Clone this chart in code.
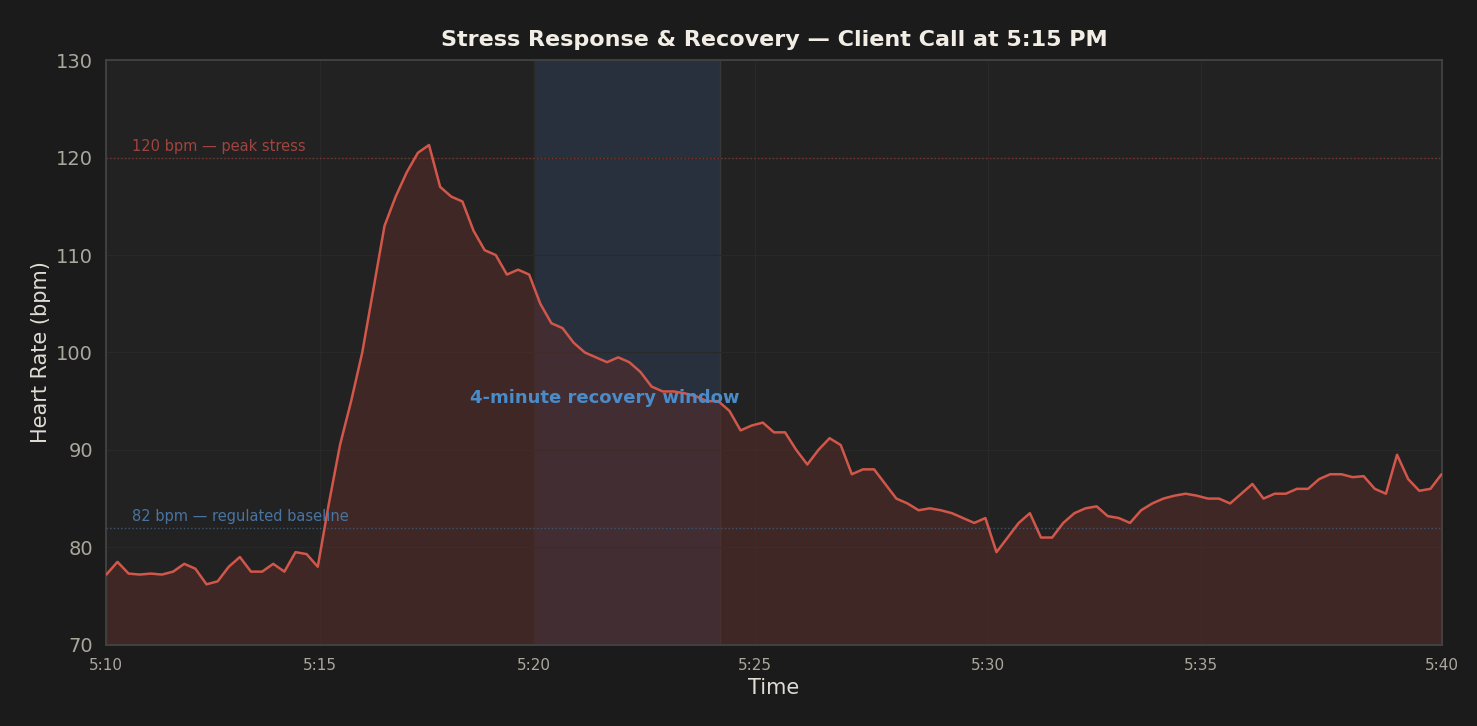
import numpy as np, pandas as pd, seaborn as sns, matplotlib
matplotlib.use("Agg")
import matplotlib.pyplot as plt

hr = [77.2,78.5,77.3,77.2,77.3,77.2,77.5,78.3,77.8,76.2,76.5,78.0,79.0,77.5,77.5,78.3,77.5,79.5,79.3,78.0,
      84.5,90.5,95.0,100.0,106.5,113.0,116.0,118.5,120.5,121.3,117.0,116.0,115.5,112.5,110.5,110.0,108.0,108.5,108.0,105.0,
      103.0,102.5,101.0,100.0,99.5,99.0,99.5,99.0,98.0,96.5,96.0,96.0,95.8,95.5,95.0,95.0,94.0,92.0,92.5,92.8,
      91.8,91.8,90.0,88.5,90.0,91.2,90.5,87.5,88.0,88.0,86.5,85.0,84.5,83.8,84.0,83.8,83.5,83.0,82.5,83.0,
      79.5,81.0,82.5,83.5,81.0,81.0,82.5,83.5,84.0,84.2,83.2,83.0,82.5,83.8,84.5,85.0,85.3,85.5,85.3,85.0,
      85.0,84.5,85.5,86.5,85.0,85.5,85.5,86.0,86.0,87.0,87.5,87.5,87.2,87.3,86.0,85.5,89.5,87.0,85.8,86.0,87.5]
minutes = [i * 0.25 for i in range(len(hr))]
tick_labels = ["5:10", "5:15", "5:20", "5:25", "5:30", "5:35", "5:40"]
tick_pos = [0, 4.79, 9.6, 14.58, 19.8, 24.6, 30]

sns.set_theme(style="dark")
plt.rcParams['font.family'] = ['DejaVu Sans']
fig, ax = plt.subplots(figsize=(14.77, 7.26), dpi=100)
fig.patch.set_facecolor("#1b1b1b")
ax.set_facecolor("#222222")
df = pd.DataFrame({"t": minutes, "hr": hr})
ax.axvspan(9.6, 13.78, facecolor="#2a3344", edgecolor="#3a3a3a", alpha=0.85, zorder=0)
ax.fill_between(df.t, 70, df.hr, color="#5a2c28", alpha=0.5, zorder=1)
sns.lineplot(data=df, x="t", y="hr", ax=ax, color="#d0574a", lw=1.8, zorder=3)
ax.axhline(120, color="#7a3632", ls=":", lw=1)
ax.axhline(82, color="#3d5670", ls=":", lw=1)
ax.text(0.58, 120.7, "120 bpm — peak stress", color="#a0443f", fontsize=10.5)
ax.text(0.58, 82.7, "82 bpm — regulated baseline", color="#4a74a0", fontsize=10.5)
ax.text(8.18, 95.3, "4-minute recovery window", color="#4a8cc9", fontsize=13, fontweight="bold", va="center", zorder=4)
ax.set_xlim(0, 30); ax.set_ylim(70, 130)
ax.set_xticks(tick_pos); ax.set_xticklabels(tick_labels)
ax.tick_params(axis="x", colors="#aaa79d", labelsize=11)
ax.tick_params(axis="y", colors="#aaa79d", labelsize=14)
ax.grid(True, color="#292929", lw=0.8)
for s in ax.spines.values():
    s.set_color("#444444"); s.set_visible(True)
ax.set_xlabel("Time", color="#e0ddd5", fontsize=15)
ax.set_ylabel("Heart Rate (bpm)", color="#e0ddd5", fontsize=15)
ax.set_title("Stress Response & Recovery — Client Call at 5:15 PM", color="#f2eee6", fontsize=16, fontweight="bold", pad=10)
plt.subplots_adjust(left=0.072, right=0.976, top=0.917, bottom=0.112)
fig.savefig("out.png", facecolor=fig.get_facecolor())
